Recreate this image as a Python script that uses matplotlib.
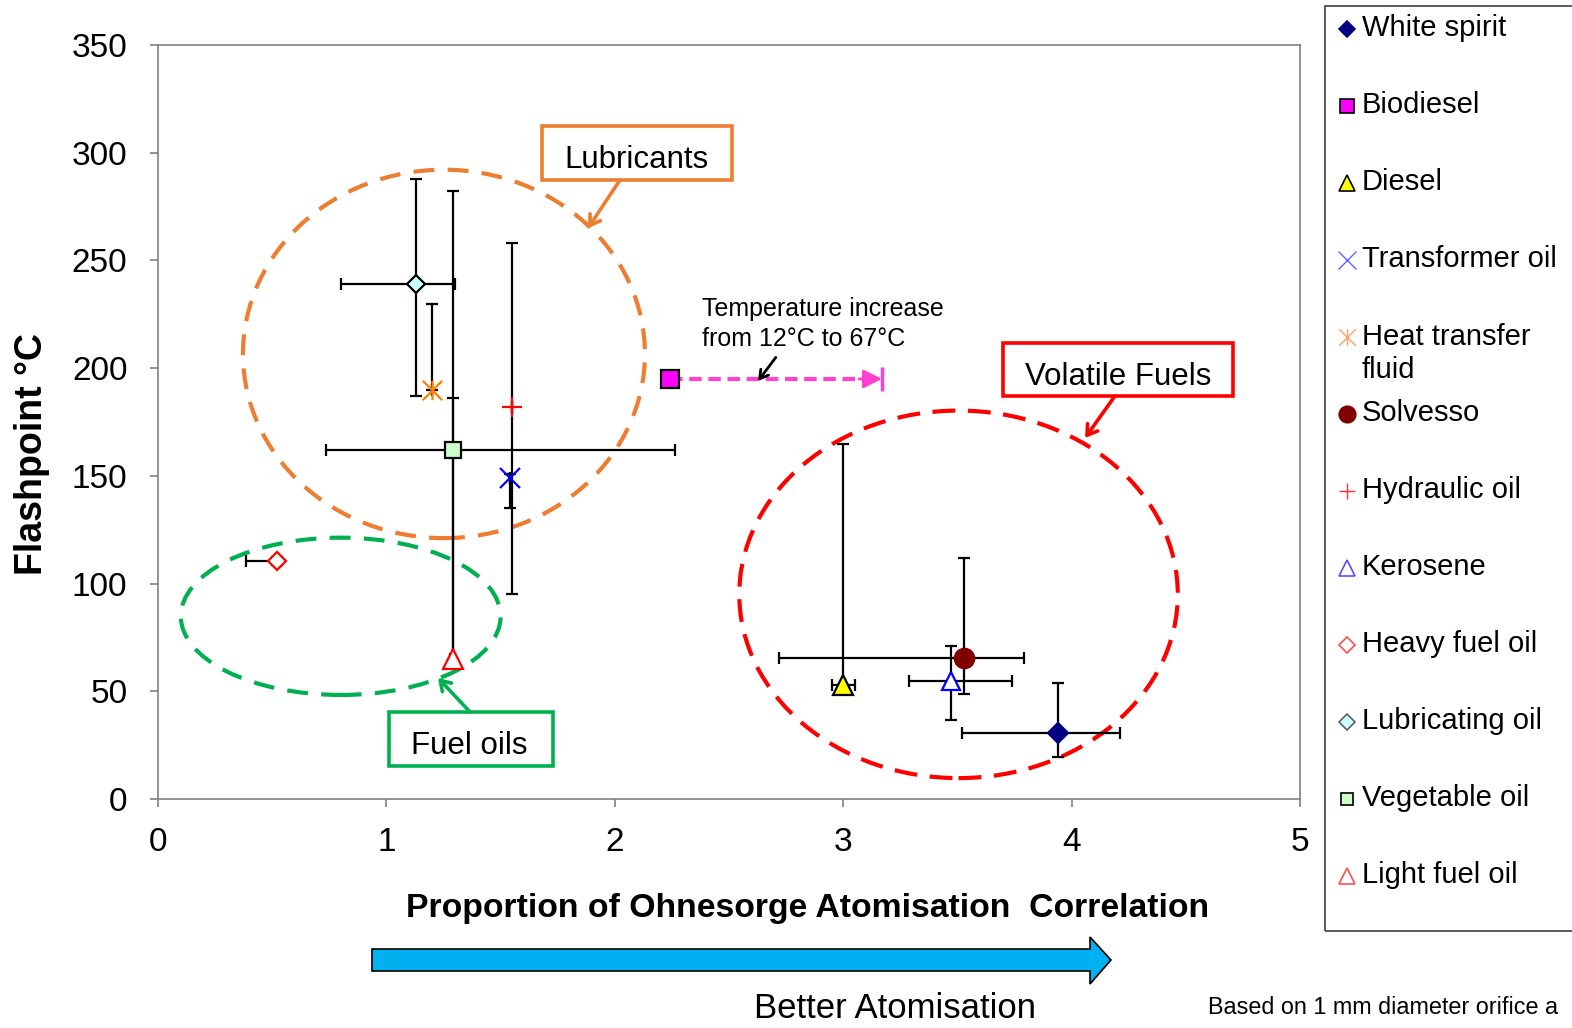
import matplotlib
matplotlib.use("Agg")
import matplotlib.pyplot as plt
from matplotlib.patches import Ellipse, Rectangle, Polygon
from matplotlib.path import Path

plt.rcParams['font.family'] = ['Liberation Sans', 'DejaVu Sans']

# data
names = ["White spirit", "Biodiesel", "Diesel", "Transformer oil", "Heat transfer\nfluid",
         "Solvesso", "Hydraulic oil", "Kerosene", "Heavy fuel oil", "Lubricating oil",
         "Vegetable oil", "Light fuel oil"]
ohnesorge = [3.94, 2.24, 3.00, 1.54, 1.20, 3.53, 1.55, 3.47, 0.52, 1.13, 1.29, 1.29]
flashpoint = [30.5, 195, 53, 149, 190, 65.3, 182, 55, 110.5, 239, 162, 65]
x_err_lo = [0.42, 0, 0.05, 0, 0, 0.81, 0, 0.18, 0.135, 0.33, 0.555, 0.01]
x_err_hi = [0.27, 0, 0.05, 0, 0, 0.26, 0, 0.27, 0.01, 0.17, 0.975, 0.01]
y_err_lo = [10.9, 0, 1, 14, 0, 16.4, 87, 18.3, 2, 52, 97, 2]
y_err_hi = [23.5, 0, 112, 2, 40, 46.7, 76, 16.2, 2, 49, 120, 121]

# biodiesel heated 12 -> 67 C
bio_hot_x = 3.17

# excel style asterisk: an x with a vertical stroke
asterisk = Path([(0, -1), (0, 1), (-1, -1), (1, 1), (-1, 1), (1, -1)],
                [Path.MOVETO, Path.LINETO, Path.MOVETO, Path.LINETO, Path.MOVETO, Path.LINETO])

# marker styles
markers = ['D', 's', '^', 'x', asterisk, 'o', '+', '^', 'D', 'D', 's', '^']
faces = ['#000080', '#FF00FF', '#FFFF00', '#0000FF', '#FF8000', '#800000', '#FF0000',
         'white', 'white', '#CCFFFF', '#CCFFCC', 'white']
edges = ['#000080', 'black', 'black', '#0000FF', '#FF8000', '#800000', '#FF0000',
         '#0000FF', '#FF0000', 'black', 'black', '#FF0000']
sizes = [10, 12.5, 14, 15, 14, 14, 14, 13.5, 9.5, 9.5, 11, 14]
leg_edges = ['#000080', 'black', 'black', '#6060FF', '#FFA060', '#800000', '#FF3030',
             '#5050FF', '#FF5050', '#606060', 'black', '#FF5050']

W, H = 1572, 1028
fig = plt.figure(figsize=(W / 100, H / 100), dpi=100)
ax = fig.add_axes([158 / W, 1 - 799 / H, 1142 / W, 754 / H])


def fx(px):
    return px / W


def fy(py):
    return 1 - py / H


# group ellipses
ax.add_patch(Ellipse((1.252, 206.6), 1.76, 171, fill=False, ec='#ED7D31', lw=3,
                     ls=(0, (5, 3.2)), zorder=1))
ax.add_patch(Ellipse((0.80, 84.8), 1.40, 73, fill=False, ec='#00B050', lw=3,
                     ls=(0, (5, 3.2)), zorder=1))
ax.add_patch(Ellipse((3.505, 95), 1.92, 170.6, fill=False, ec='#FF0000', lw=3,
                     ls=(0, (5.5, 3)), zorder=1))

# error bars
for i in range(len(names)):
    ax.errorbar(ohnesorge[i], flashpoint[i],
                xerr=[[x_err_lo[i]], [x_err_hi[i]]], yerr=[[y_err_lo[i]], [y_err_hi[i]]],
                fmt='none', ecolor='black', elinewidth=1.6, capsize=4.5, capthick=1.6,
                zorder=3)

# biodiesel temperature arrow
ax.plot([ohnesorge[1], bio_hot_x - 0.06], [flashpoint[1], flashpoint[1]], color='#FF40D0',
        lw=3, ls=(0, (3, 1.6)), zorder=2)
ax.annotate('', xy=(bio_hot_x, flashpoint[1]), xytext=(bio_hot_x - 0.1, flashpoint[1]),
            arrowprops=dict(arrowstyle='-|>', color='#FF40D0', lw=2, mutation_scale=28,
                            shrinkA=0, shrinkB=0), zorder=2)
ax.plot(bio_hot_x, flashpoint[1], marker='|', ms=17, mew=2.5, color='#FF40D0', zorder=2)

# markers
for i in range(len(names)):
    ax.plot(ohnesorge[i], flashpoint[i], ls='none', marker=markers[i], ms=sizes[i],
            mfc=faces[i], mec=edges[i], mew=1.6, zorder=5)

ax.set_xlim(0, 5)
ax.set_ylim(0, 350)
ax.set_xticks(range(0, 6))
ax.set_yticks(range(0, 351, 50))
for s in ax.spines.values():
    s.set_color('#808080')
    s.set_linewidth(1.2)
ax.tick_params(axis='both', direction='out', length=6, width=1.2, color='#808080',
               labelsize=24, labelcolor='black')
ax.tick_params(axis='x', pad=14)
ax.tick_params(axis='y', pad=16)

ax.set_xlabel("Proportion of Ohnesorge Atomisation  Correlation", fontsize=24.3,
              fontweight='bold', va='center')
ax.xaxis.set_label_coords((808 - 158) / 1142, (799 - 908) / 754)
ax.set_ylabel("Flashpoint °C", fontsize=27, fontweight='bold', va='center')
ax.yaxis.set_label_coords((32 - 158) / 1142, (799 - 454) / 754)

# group labels
labels = [("Lubricants", (1.681, 287.4), 0.832, 25.0, (2.093, 296.5), '#ED7D31',
           (2.023, 287.4), (1.883, 265)),
          ("Volatile Fuels", (3.700, 187.1), 1.007, 24.6, (4.203, 196.0), '#FF0000',
           (4.19, 187.1), (4.059, 167.6)),
          ("Fuel oils", (1.011, 15.3), 0.718, 25.1, (1.362, 24.5), '#00B050',
           (1.366, 40.4), (1.226, 56.2))]
for txt, xy, w, h, c, col, a0, a1 in labels:
    ax.add_patch(Rectangle(xy, w, h, fill=True, fc='white', ec=col, lw=2.6, zorder=6))
    ax.text(c[0], c[1], txt, fontsize=22.5, ha='center', va='center', zorder=7)
    ax.annotate('', xy=a1, xytext=a0,
                arrowprops=dict(arrowstyle='->,head_length=0.7,head_width=0.45', color=col,
                                lw=2.6, shrinkA=0, shrinkB=0), zorder=6)

ax.text(2.382, 220.5, "Temperature increase\nfrom 12°C to 67°C", fontsize=18,
        ha='left', va='center', linespacing=1.35, zorder=7)
ax.annotate('', xy=(2.627, 194), xytext=(2.705, 205),
            arrowprops=dict(arrowstyle='->,head_length=0.6,head_width=0.35', color='black',
                            lw=2, shrinkA=0, shrinkB=0), zorder=7)

# legend drawn by hand
fig.patches.append(Rectangle((fx(1325), fy(931)), 0.2, fy(6) - fy(931), fill=False,
                             ec='#404040', lw=1.2, transform=fig.transFigure, figure=fig))
leg = fig.add_axes([0, 0, 1, 1], facecolor='none')
leg.set_xlim(0, W)
leg.set_ylim(H, 0)
leg.axis('off')
for i, name in enumerate(names):
    row = 28 + 77 * i
    lw_m = 1.0 if markers[i] in ('x', '+') or markers[i] is asterisk else 1.2
    leg.plot(1347, row + 1, ls='none', marker=markers[i], ms=sizes[i] * 0.85,
             mfc=faces[i], mec=leg_edges[i], mew=lw_m)
    if '\n' in name:
        leg.text(1362, row + 17.5, name, fontsize=21, ha='left', va='center',
                 linespacing=1.25)
    else:
        leg.text(1362, row, name, fontsize=21, ha='left', va='center')

# better atomisation arrow
leg.add_patch(Polygon([(372, 949), (1090, 949), (1090, 937), (1111, 960), (1090, 984),
                       (1090, 971), (372, 971)], closed=True, fc='#00B0F0', ec='black',
                      lw=1.2))
leg.text(895, 1008, "Better Atomisation", fontsize=25, ha='center', va='center')
leg.text(1208, 1007, "Based on 1 mm diameter orifice a", fontsize=16.8, ha='left',
         va='center')

fig.savefig("out.png", dpi=100)
